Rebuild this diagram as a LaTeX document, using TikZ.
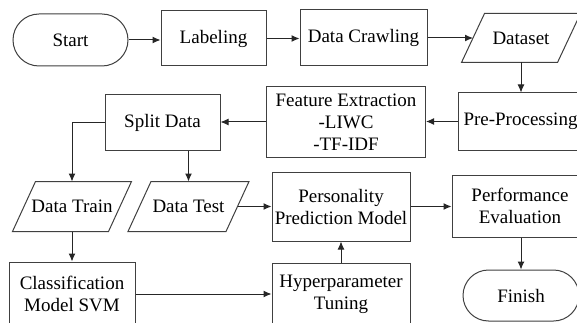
\documentclass[tikz,border=0pt]{standalone}
\usepackage{fontspec}
\setmainfont{Liberation Serif}
\newfontfamily\timesfont{Liberation Serif}
\usetikzlibrary{arrows.meta,shapes.misc,calc}
\begin{document}
\begin{tikzpicture}[x=1pt,y=-1pt,
  outline/.style={draw=black!75, line width=1pt},
  box/.style={outline, align=center, inner sep=0pt, font=\timesfont\fontsize{19}{22}\selectfont},
  term/.style={box, rounded rectangle},
  para/.style={box, draw=none},
  conn/.style={line width=1pt, draw=black!85, -{Latex[length=8pt,width=7pt]}}
]
\useasboundingbox (0,0) rectangle (577,323);
\clip (0,0) rectangle (577,323);
\fill[white] (0,0) rectangle (577,323);

\node[term, minimum width=115, minimum height=52] (start) at (70.5,40) {Start};
\node[box, minimum width=105, minimum height=55] (lab) at (213.5,38.5) {Labeling};
\node[box, minimum width=127, minimum height=56] (dc) at (363.5,38) {Data Crawling};
\node[para, minimum width=95, minimum height=48] (ds) at (521,38) {Dataset};
\node[box, minimum width=125, minimum height=57] (pre) at (520.5,121.5) {Pre-Processing};
\node[box, minimum width=159, minimum height=70] (fe) at (346,122) {Feature Extraction\\-LIWC\\-TF-IDF};
\node[box, minimum width=115, minimum height=55] (sd) at (162.5,122.5) {Split Data};
\node[para, minimum width=95, minimum height=49] (dtr) at (72,206.5) {Data Train};
\node[para, minimum width=97, minimum height=49] (dte) at (188.5,206.5) {Data Test};
\node[box, minimum width=138, minimum height=69] (pp) at (341,206.5) {Personality\\Prediction Model};
\node[box, minimum width=136, minimum height=62] (pe) at (520,206) {Performance\\Evaluation};
\node[term, minimum width=116, minimum height=51] (fin) at (521,295.5) {Finish};
\node[box, minimum width=138, minimum height=62] (hp) at (341,294) {Hyperparameter\\Tuning};
\node[box, minimum width=126, minimum height=64] (clf) at (72,294) {Classification\\Model SVM};

\foreach \n in {ds,dtr,dte}
  \draw[outline] ($(\n.south west)+(-11.5,0)$) -- ($(\n.north west)+(11.5,0)$)
     -- ($(\n.north east)+(11.5,0)$) -- ($(\n.south east)+(-11.5,0)$) -- cycle;

\draw[conn] (start.east) -- (start.east -| lab.west);
\draw[conn] (lab.east) -- (lab.east -| dc.west);
\draw[conn] (dc.east) -- (dc.east -| ds.west);
\draw[conn] (ds.south) -- (ds.south |- pre.north);
\draw[conn] (pre.west) -- (pre.west -| fe.east);
\draw[conn] (fe.west) -- (fe.west -| sd.east);
\draw[conn] (sd.west) -| (dtr.north);
\draw[conn] (dte.north |- sd.south) -- (dte.north);
\draw[conn] (dte.east) -- (dte.east -| pp.west);
\draw[conn] (dtr.south) -- (clf.north);
\draw[conn] (clf.east) -- (clf.east -| hp.west);
\draw[conn] (hp.north) -- (pp.south);
\draw[conn] (pp.east) -- (pp.east -| pe.west);
\draw[conn] (pe.south -| fin.north) -- (fin.north);
\end{tikzpicture}
\end{document}
